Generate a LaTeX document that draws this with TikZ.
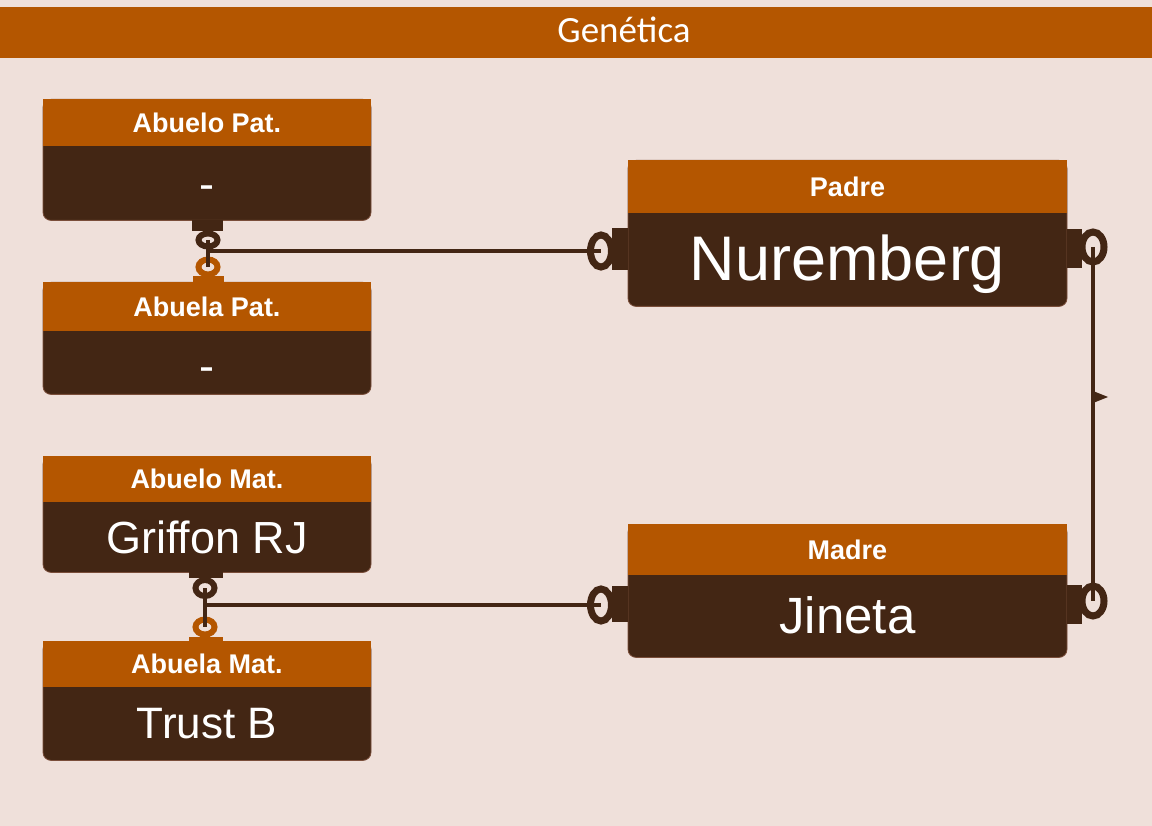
\documentclass[tikz,border=0pt]{standalone}
\usepackage{fontspec}
\setmainfont{Liberation Sans}
\newfontfamily\titlefont{Carlito}
\definecolor{fondo}{HTML}{EFE0DA}
\definecolor{ocre}{HTML}{B45600}
\definecolor{cafe}{HTML}{432614}
\definecolor{cafeborde}{HTML}{7A4E3A}
\begin{document}
\begin{tikzpicture}[x=1pt, y=-1pt,
		tarjeta/.style={fill=cafe, draw=cafeborde, line width=.8pt, rounded corners=8pt, inner sep=0pt, anchor=north},
		cabecera/.style={fill=ocre, text=white, inner sep=0pt, anchor=north, font=\bfseries\fontsize{27}{27}\selectfont},
		valor/.style={text=white, inner sep=0pt, anchor=base},
		enlace/.style={draw=cafe, line width=4pt},
		argolla/.style={draw=#1, line width=6pt},
		argollag/.style={draw=cafe, line width=7pt}]
	\useasboundingbox (0,0) rectangle (1152,826);
	\fill[fondo] (0,0) rectangle (1152,826);
	\fill[ocre] (0,7) rectangle (1152,58);
	\node[text=white, inner sep=0pt, anchor=base, font=\titlefont\fontsize{37}{37}\selectfont] (titulo) at (624,43) {Genética};
	% abuelos paternos
	\node[tarjeta, minimum width=328pt, minimum height=121pt] (apat) at (207,99) {};
	\node[cabecera, minimum width=328pt, minimum height=47pt] (apatc) at (207,99) {Abuelo Pat.};
	\node[valor, anchor=center, font=\fontsize{45}{45}\selectfont] (apatv) at (207,193) {-};
	\node[tarjeta, minimum width=328pt, minimum height=112pt] (aupat) at (207,282) {};
	\node[cabecera, minimum width=328pt, minimum height=49pt] (aupatc) at (207,282) {Abuela Pat.};
	\node[valor, anchor=center, font=\fontsize{45}{45}\selectfont] (aupatv) at (207,375) {-};
	% abuelos maternos
	\node[tarjeta, minimum width=328pt, minimum height=116pt] (amat) at (207,456) {};
	\node[cabecera, minimum width=328pt, minimum height=46pt] (amatc) at (207,456) {Abuelo Mat.};
	\node[valor, font=\fontsize{45}{45}\selectfont] (amatv) at (207,553) {Griffon RJ};
	\node[tarjeta, minimum width=328pt, minimum height=119pt] (aumat) at (207,641) {};
	\node[cabecera, minimum width=328pt, minimum height=46pt] (aumatc) at (207,641) {Abuela Mat.};
	\node[valor, font=\fontsize{44}{44}\selectfont] (aumatv) at (207,738) {Trust B};
	% padres
	\node[tarjeta, minimum width=439pt, minimum height=146pt] (padre) at (847.5,160) {};
	\node[cabecera, minimum width=439pt, minimum height=53pt] (padrec) at (847.5,160) {Padre};
	\node[valor, font=\fontsize{63}{63}\selectfont] (padrev) at (847.5,281) {Nuremberg};
	\node[tarjeta, minimum width=439pt, minimum height=133pt] (madre) at (847.5,524) {};
	\node[cabecera, minimum width=439pt, minimum height=51pt] (madrec) at (847.5,524) {Madre};
	\node[valor, font=\fontsize{51}{51}\selectfont] (madrev) at (847.5,633) {Jineta};
	% extremos de los enlaces
	\coordinate (apatO) at (208,240);
	\coordinate (aupatO) at (208,267);
	\coordinate (amatO) at (205,588);
	\coordinate (aumatO) at (205,627);
	\coordinate (padreOi) at (601,251);
	\coordinate (padreOd) at (1093,247);
	\coordinate (madreOi) at (601,605);
	\coordinate (madreOd) at (1093,601);
	\coordinate (bandera) at (1093,397);
	\fill[cafe] (192,220) rectangle (223,231);
	\fill[ocre] (193,276) rectangle (224,282);
	\fill[cafe] (189,572) rectangle (223,578);
	\fill[ocre] (189,637) rectangle (223,642);
	\fill[cafe] (612,228) rectangle (628,270);
	\fill[cafe] (1067,229) rectangle (1082,268);
	\fill[cafe] (612,586) rectangle (628,622);
	\fill[cafe] (1067,585) rectangle (1082,624);
	\draw[argolla=cafe] (apatO) ellipse[x radius=9.5, y radius=6.5];
	\draw[argolla=ocre] (aupatO) ellipse[x radius=9.5, y radius=7.5];
	\draw[argolla=cafe] (amatO) ellipse[x radius=9.5, y radius=8];
	\draw[argolla=ocre] (aumatO) ellipse[x radius=9.5, y radius=7.5];
	\draw[argollag] (padreOi) ellipse[x radius=10.5, y radius=16];
	\draw[argollag] (madreOi) ellipse[x radius=10.5, y radius=16];
	\draw[argollag] (padreOd) ellipse[x radius=11, y radius=15];
	\draw[argollag] (madreOd) ellipse[x radius=11, y radius=15];
	\draw[enlace] (apatO) -- (aupatO);
	\draw[enlace] (apatO |- padreOi) -- (padreOi);
	\draw[enlace] (amatO) -- (aumatO);
	\draw[enlace] (amatO |- madreOi) -- (madreOi);
	\draw[enlace] (padreOd) -- (madreOd);
	\fill[cafe] (bandera) ++(0,-6) -- ++(15,6) -- ++(-15,6) -- cycle;
\end{tikzpicture}
\end{document}
